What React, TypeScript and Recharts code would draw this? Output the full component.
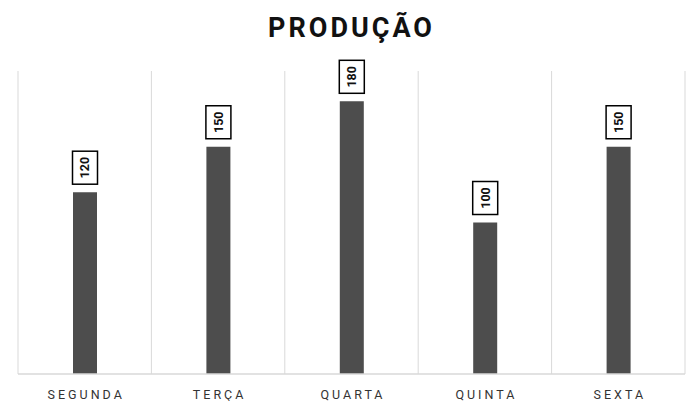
import React from "react";
import { BarChart, Bar, XAxis, YAxis, CartesianGrid, LabelList } from "recharts";

const days = ["SEGUNDA", "TERÇA", "QUARTA", "QUINTA", "SEXTA"];
const production = [120, 150, 180, 100, 150];
const data = days.map((d, i) => ({ day: d, value: production[i] }));

const ValueLabel = (props: any) => {
  const { x, y, width, value } = props;
  const cx = x + width / 2;
  const bw = 25;
  const bh = 33;
  const top = y - 8 - bh;
  return (
    <g>
      <rect x={cx - bw / 2} y={top} width={bw} height={bh} fill="#fff" stroke="#000" strokeWidth={1.5} />
      <text
        x={cx}
        y={top + bh / 2}
        transform={`rotate(-90 ${cx} ${top + bh / 2})`}
        textAnchor="middle"
        dominantBaseline="central"
        fontFamily="Roboto, 'DejaVu Sans', sans-serif"
        fontWeight={700}
        fontSize={12.5}
        fill="#111"
      >
        {value}
      </text>
    </g>
  );
};

const Tick = (props: any) => {
  const { x, y, payload } = props;
  return (
    <text
      x={x + 1.5}
      y={y + 17}
      textAnchor="middle"
      fontFamily="Roboto, 'DejaVu Sans', sans-serif"
      fontSize={12.5}
      letterSpacing={3}
      fill="#333"
    >
      {payload.value}
    </text>
  );
};

export default function App() {
  return (
    <div style={{ position: "absolute", left: 0, top: 0, width: 689, height: 401, background: "#fff" }}>
      <div
        style={{
          position: "absolute",
          left: 0,
          width: 689,
          top: 12,
          textAlign: "center",
          fontFamily: "Roboto, 'DejaVu Sans', sans-serif",
          fontWeight: 700,
          fontSize: 27,
          letterSpacing: 3,
          color: "#111",
          paddingLeft: 14,
          boxSizing: "border-box",
        }}
      >
        PRODUÇÃO
      </div>
      <BarChart
        width={689}
        height={401}
        data={data}
        margin={{ top: 71, right: 4, left: 18, bottom: 0 }}
        barCategoryGap={0}
      >
        <CartesianGrid
          horizontal={false}
          stroke="#d9d9d9"
          strokeWidth={1}
          verticalCoordinatesGenerator={({ offset }: any) =>
            Array.from({ length: days.length + 1 }, (_, i) => offset.left + (i * offset.width) / days.length)
          }
        />
        <XAxis
          dataKey="day"
          height={27}
          axisLine={{ stroke: "#d9d9d9", strokeWidth: 1.5 }}
          tickLine={false}
          tick={<Tick />}
          interval={0}
        />
        <YAxis hide domain={[0, 200]} />
        <Bar dataKey="value" fill="#4d4d4d" barSize={24} isAnimationActive={false}>
          <LabelList dataKey="value" content={<ValueLabel />} />
        </Bar>
      </BarChart>
    </div>
  );
}
